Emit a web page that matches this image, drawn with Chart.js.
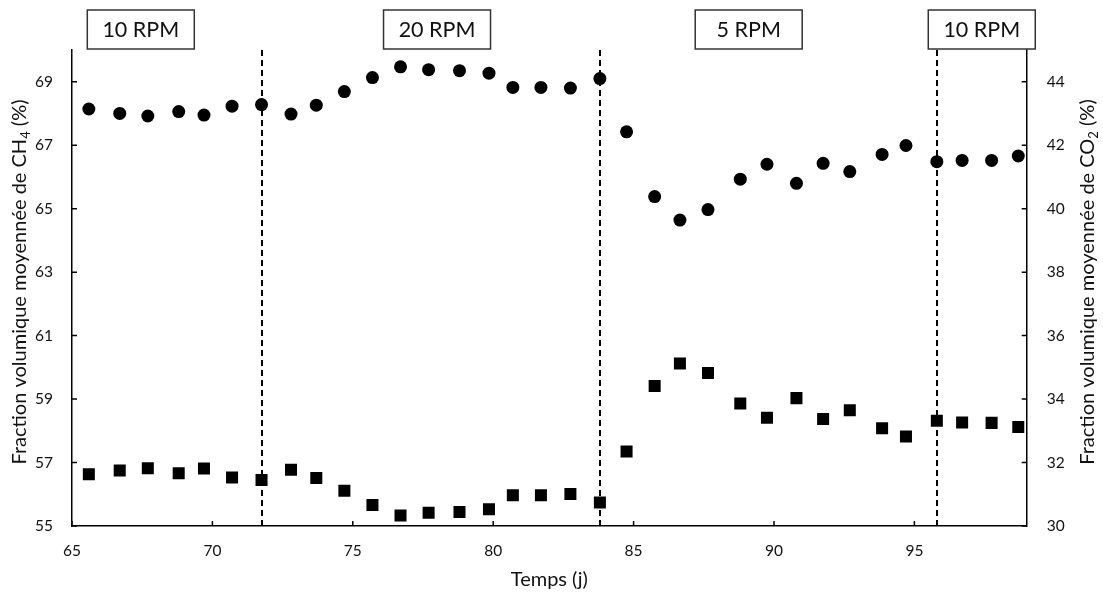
<!DOCTYPE html>
<html><head><meta charset="utf-8">
<script src="https://cdn.jsdelivr.net/npm/chart.js@4"></script>
<style>html,body{margin:0;padding:0;background:#fff}#wrap{width:1103px;height:598px}</style>
</head><body><div id="wrap"><canvas id="c" width="1103" height="598"></canvas></div>
<script>
const days = [65.6, 66.7, 67.7, 68.8, 69.7, 70.7, 71.75, 72.8, 73.7, 74.7, 75.7, 76.7, 77.7, 78.8, 79.85, 80.7, 81.7, 82.75, 83.8, 84.75, 85.75, 86.65, 87.65, 88.8, 89.75, 90.8, 91.75, 92.7, 93.85, 94.7, 95.8, 96.7, 97.75, 98.7];
const ch4 = [68.14, 68.00, 67.92, 68.06, 67.95, 68.23, 68.28, 67.98, 68.26, 68.69, 69.13, 69.47, 69.38, 69.35, 69.27, 68.82, 68.82, 68.80, 69.10, 67.42, 65.38, 64.64, 64.97, 65.93, 66.40, 65.80, 66.43, 66.17, 66.71, 66.99, 66.48, 66.52, 66.52, 66.66];
const co2 = [31.63, 31.75, 31.82, 31.66, 31.81, 31.53, 31.45, 31.77, 31.51, 31.11, 30.66, 30.33, 30.42, 30.44, 30.53, 30.97, 30.97, 31.01, 30.74, 32.35, 34.41, 35.12, 34.82, 33.86, 33.41, 34.03, 33.37, 33.65, 33.08, 32.82, 33.32, 33.26, 33.25, 33.12];
const xTicks = [65, 70, 75, 80, 85, 90, 95];
const yLeftTicks = [55, 57, 59, 61, 63, 65, 67, 69];
const yRightTicks = [30, 32, 34, 36, 38, 40, 42, 44];
const phaseBounds = [71.75, 83.8, 95.8];
const phaseLabels = ['10 RPM', '20 RPM', '5 RPM', '10 RPM'];
const phaseCenters = [67.45, 78.0, 89.1, 97.4];
const xTitle = 'Temps (j)';
const yLeftTitle = ['Fraction volumique moyennée de CH', '4', ' (%)'];
const yRightTitle = ['Fraction volumique moyennée de CO', '2', ' (%)'];

const TXT = '#111';
const FONT = 'Lato';

function drawRotTitle(ctx, x, y, parts) {
  const mainF = '20px ' + FONT, subF = '13px ' + FONT;
  ctx.save();
  ctx.translate(x, y);
  ctx.rotate(-Math.PI / 2);
  ctx.fillStyle = TXT;
  ctx.textBaseline = 'alphabetic';
  ctx.textAlign = 'left';
  const widths = parts.map((p, i) => { ctx.font = (i === 1 ? subF : mainF); return ctx.measureText(p).width; });
  const total = widths.reduce((a, b) => a + b, 0);
  let pos = -total / 2;
  parts.forEach((p, i) => {
    ctx.font = (i === 1 ? subF : mainF);
    ctx.fillText(p, pos, i === 1 ? 4 : 0);
    pos += widths[i];
  });
  ctx.restore();
}

const decor = {
  id: 'decor',
  beforeDatasetsDraw(chart) {
    const {ctx, chartArea, scales: {x}} = chart;
    ctx.save();
    ctx.strokeStyle = '#000';
    ctx.lineWidth = 2;
    ctx.setLineDash([6, 4]);
    phaseBounds.forEach(v => {
      const px = Math.round(x.getPixelForValue(v));
      ctx.beginPath();
      ctx.moveTo(px, chartArea.top);
      ctx.lineTo(px, chartArea.bottom);
      ctx.stroke();
    });
    ctx.restore();
  },
  afterDraw(chart) {
    const {ctx, chartArea, scales: {x, y, y1}} = chart;
    ctx.save();
    ctx.strokeStyle = '#000';
    ctx.lineWidth = 1.5;
    ctx.beginPath();
    x.ticks.forEach(t => {
      const px = x.getPixelForValue(t.value);
      ctx.moveTo(px, chartArea.bottom); ctx.lineTo(px, chartArea.bottom - 5);
    });
    y.ticks.forEach(t => {
      const py = y.getPixelForValue(t.value);
      ctx.moveTo(chartArea.left, py); ctx.lineTo(chartArea.left + 5, py);
    });
    y1.ticks.forEach(t => {
      const py = y1.getPixelForValue(t.value);
      ctx.moveTo(chartArea.right, py); ctx.lineTo(chartArea.right - 5, py);
    });
    ctx.stroke();
    ctx.font = '21.5px ' + FONT;
    ctx.textAlign = 'center';
    ctx.textBaseline = 'middle';
    phaseLabels.forEach((lab, i) => {
      const cx = x.getPixelForValue(phaseCenters[i]);
      ctx.fillStyle = '#fff';
      ctx.fillRect(cx - 53.5, 10, 107, 39);
      ctx.strokeStyle = '#333';
      ctx.lineWidth = 1.5;
      ctx.strokeRect(cx - 53.5, 10, 107, 39);
      ctx.fillStyle = TXT;
      ctx.fillText(lab, cx, 30);
    });
    const midY = (chartArea.top + chartArea.bottom) / 2 - 6;
    drawRotTitle(ctx, 26, midY, yLeftTitle);
    drawRotTitle(ctx, 1094, midY, yRightTitle);
    ctx.restore();
  }
};

const tickFont = {family: FONT, size: 15.5};
new Chart(document.getElementById('c'), {
  type: 'scatter',
  data: {
    datasets: [
      {label: 'CH4', data: days.map((d, i) => ({x: d, y: ch4[i]})), yAxisID: 'y',
       pointStyle: 'circle', pointRadius: 6.5, pointHoverRadius: 6.5,
       backgroundColor: '#000', borderColor: '#000', borderWidth: 0},
      {label: 'CO2', data: days.map((d, i) => ({x: d, y: co2[i]})), yAxisID: 'y1',
       pointStyle: 'rect', pointRadius: 8.5, pointHoverRadius: 8.5,
       backgroundColor: '#000', borderColor: '#000', borderWidth: 0}
    ]
  },
  options: {
    responsive: false, animation: false, events: [],
    layout: {padding: {top: 50, left: 0, right: 0, bottom: 0}},
    plugins: {legend: {display: false}, tooltip: {enabled: false}},
    scales: {
      x: {
        type: 'linear', position: 'bottom', min: 65, max: 99,
        afterBuildTicks: s => { s.ticks = xTicks.map(v => ({value: v})); },
        afterFit: s => { s.height = 72; },
        grid: {display: true, drawOnChartArea: false, drawTicks: false},
        border: {display: true, color: '#000', width: 1.5},
        ticks: {padding: 16, font: tickFont, color: TXT, maxRotation: 0, autoSkip: false},
        title: {display: true, text: xTitle, font: {family: FONT, size: 20}, color: TXT, padding: {top: 0, bottom: 6}}
      },
      y: {
        type: 'linear', position: 'left', min: 55, max: 70,
        afterBuildTicks: s => { s.ticks = yLeftTicks.map(v => ({value: v})); },
        afterFit: s => { s.width = 72; },
        grid: {display: true, drawOnChartArea: false, drawTicks: false},
        border: {display: true, color: '#000', width: 1.5},
        ticks: {padding: 19, font: tickFont, color: TXT, autoSkip: false}
      },
      y1: {
        type: 'linear', position: 'right', min: 30, max: 45,
        afterBuildTicks: s => { s.ticks = yRightTicks.map(v => ({value: v})); },
        afterFit: s => { s.width = 76.3; },
        grid: {display: true, drawOnChartArea: false, drawTicks: false},
        border: {display: true, color: '#000', width: 1.5},
        ticks: {padding: 20, font: tickFont, color: TXT, autoSkip: false}
      }
    }
  },
  plugins: [decor]
});
</script>
</body></html>
